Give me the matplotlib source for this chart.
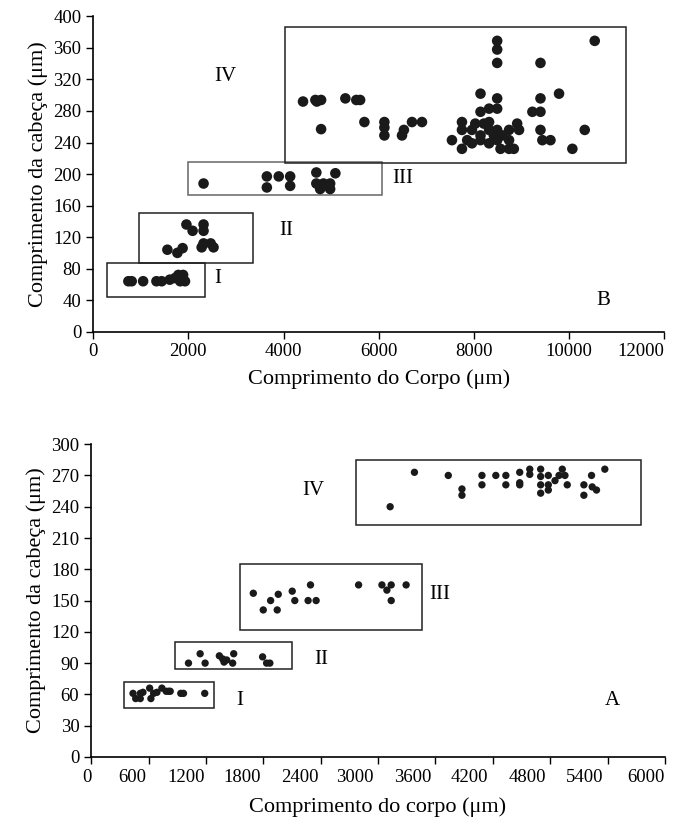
import matplotlib.pyplot as plt
from matplotlib.patches import Rectangle
from matplotlib.transforms import ScaledTranslation

plt.rcParams['font.family'] = ['Liberation Serif', 'DejaVu Serif']

##### Data #####

# Panel B (top) - body length vs head length
b_x_I = [740, 810, 1050, 1330, 1440, 1610, 1720, 1790, 1890, 1830, 1930]
b_y_I = [64, 64, 64, 64, 64, 66, 68, 72, 72, 64, 64]

b_x_II = [1560, 1770, 1880, 1960, 2090, 2320, 2320, 2320, 2470, 2280, 2530]
b_y_II = [104, 100, 106, 136, 128, 136, 128, 112, 112, 107, 107]

b_x_III = [2320, 3650, 3650, 3900, 4140, 4140, 4690, 4690, 4770, 4980, 4980, 5090, 4840]
b_y_III = [188, 197, 183, 197, 197, 185, 202, 188, 181, 181, 188, 201, 188]

b_x_IV = [4410, 4670, 4700, 4790, 5300, 5530, 5610, 4790, 5700, 6120, 6120, 6120,
          6490, 6530, 6700, 6910, 7540, 7750, 7750, 7750, 7960, 7960, 8030, 8140,
          8140, 8210, 8320, 8320, 8320, 8320, 8490, 8490, 8490, 8490, 8560, 8740,
          8740, 8740, 8840, 8910, 8950, 8490, 8490, 8490, 9400, 9400, 9230, 9400,
          9400, 9440, 9610, 9790, 10070, 10330, 10540, 7860, 8140, 8140, 8420, 8600]
b_y_IV = [292, 294, 292, 294, 296, 294, 294, 257, 266, 266, 259, 249,
          249, 256, 266, 266, 243, 266, 256, 232, 256, 239, 264, 302,
          279, 264, 283, 266, 256, 239, 296, 283, 256, 243, 232, 256,
          243, 232, 232, 264, 256, 369, 358, 341, 341, 296, 279, 279,
          256, 243, 243, 302, 232, 256, 369, 243, 249, 243, 249, 249]

# boxes: x0, x1, y0, y1
b_boxes = [(300, 2340, 44, 87), (970, 3350, 87, 150),
           (1990, 6080, 173, 215), (4035, 11190, 214, 386)]
b_box_colors = ['#222222', '#222222', '#666666', '#222222']
b_labels = ['I', 'II', 'III', 'IV']
b_label_x = [2620, 4060, 6510, 2770]
b_label_y = [68, 129, 194, 324]

# Panel A (bottom)
a_x_I = [438, 466, 514, 514, 542, 612, 625, 653, 688, 740, 785, 810, 827, 938, 966, 1188]
a_y_I = [61, 56, 61, 56, 62, 66, 56, 61, 62, 66, 63, 63, 63, 61, 61, 61]

a_x_II = [1018, 1140, 1192, 1341, 1376, 1390, 1418, 1480, 1491, 1793, 1835, 1869]
a_y_II = [90, 99, 90, 97, 94, 91, 93, 90, 99, 96, 90, 90]

a_x_III = [1696, 1800, 1877, 1946, 1957, 2103, 2130, 2269, 2294, 2353,
           2797, 3041, 3093, 3138, 3138, 3294]
a_y_III = [157, 141, 150, 141, 156, 159, 150, 150, 165, 150,
           165, 165, 160, 165, 150, 165]

a_x_IV = [3127, 3381, 3735, 3878, 3878, 4087, 4087, 4232, 4337, 4337, 4482, 4482,
          4482, 4587, 4587, 4701, 4701, 4701, 4701, 4781, 4781, 4781, 4851, 4893,
          4927, 4955, 4979, 5153, 5153, 5233, 5240, 5285, 5372]
a_y_IV = [240, 273, 270, 257, 251, 270, 261, 270, 270, 261, 273, 263,
          261, 276, 271, 276, 269, 261, 253, 270, 261, 256, 265, 270,
          276, 270, 261, 261, 251, 270, 259, 256, 276]

a_boxes = [(340, 1290, 47, 72), (880, 2100, 84, 110),
           (1557, 3458, 122, 185), (2765, 5750, 222, 285)]
a_labels = ['I', 'II', 'III', 'IV']
a_label_x = [1557, 2408, 3641, 2321]
a_label_y = [54, 93, 156, 256]

# the x tick labels of panel A sit a bit left of their ticks in the original (pixels)
a_xlabel_shift = [-4, -16, -20, -21, -21, -23, -23, -23, -23, -23, 0]


def style_axes(ax):
    ax.spines['top'].set_visible(False)
    ax.spines['right'].set_visible(False)
    ax.spines['left'].set_linewidth(1.2)
    ax.spines['bottom'].set_linewidth(1.2)
    ax.tick_params(direction='out', length=5, width=1.0, labelsize=13.5, colors='black')


fig = plt.figure(figsize=(6.75, 8.21), dpi=100)

##### Panel B #####
ax1 = fig.add_axes([0.138, 0.596, 0.846, 0.384])
for xs, ys in [(b_x_I, b_y_I), (b_x_II, b_y_II), (b_x_III, b_y_III), (b_x_IV, b_y_IV)]:
    ax1.scatter(xs, ys, s=58, color='#1a1a1a', edgecolors='none', zorder=3)
for (x0, x1, y0, y1), c in zip(b_boxes, b_box_colors):
    ax1.add_patch(Rectangle((x0, y0), x1 - x0, y1 - y0, fill=False, edgecolor=c, linewidth=1.1))
for lab, lx, ly in zip(b_labels, b_label_x, b_label_y):
    ax1.text(lx, ly, lab, fontsize=15, ha='center', va='center')
ax1.text(10720, 40, 'B', fontsize=15, ha='center', va='center')
ax1.set_xlim(0, 12000)
ax1.set_ylim(0, 400)
ax1.set_xticks(range(0, 12001, 2000))
ax1.set_yticks(range(0, 401, 40))
ax1.set_xlabel('Comprimento do Corpo (μm)', fontsize=16, labelpad=6)
ax1.set_ylabel('Comprimento da cabeça (μm)', fontsize=16)
style_axes(ax1)
ax1.get_xticklabels()[-1].set_horizontalalignment('right')

##### Panel A #####
ax2 = fig.add_axes([0.135, 0.078, 0.85, 0.381])
for xs, ys in [(a_x_I, a_y_I), (a_x_II, a_y_II), (a_x_III, a_y_III), (a_x_IV, a_y_IV)]:
    ax2.scatter(xs, ys, s=28, color='#1a1a1a', edgecolors='none', zorder=3)
for (x0, x1, y0, y1) in a_boxes:
    ax2.add_patch(Rectangle((x0, y0), x1 - x0, y1 - y0, fill=False, edgecolor='#222222', linewidth=1.1))
for lab, lx, ly in zip(a_labels, a_label_x, a_label_y):
    ax2.text(lx, ly, lab, fontsize=15, ha='center', va='center')
ax2.text(5450, 54, 'A', fontsize=15, ha='center', va='center')
ax2.set_xlim(0, 6000)
ax2.set_ylim(0, 300)
ax2.set_xticks(range(0, 6001, 600))
ax2.set_yticks(range(0, 301, 30))
ax2.set_xlabel('Comprimento do corpo (μm)', fontsize=16, labelpad=8)
ax2.set_ylabel('Comprimento da cabeça (μm)', fontsize=16)
style_axes(ax2)
labels_a = ax2.get_xticklabels()
for lbl, dx in zip(labels_a, a_xlabel_shift):
    lbl.set_transform(lbl.get_transform() + ScaledTranslation(dx / 100, 0, fig.dpi_scale_trans))
labels_a[-1].set_horizontalalignment('right')

plt.savefig('out.png', dpi=100)
